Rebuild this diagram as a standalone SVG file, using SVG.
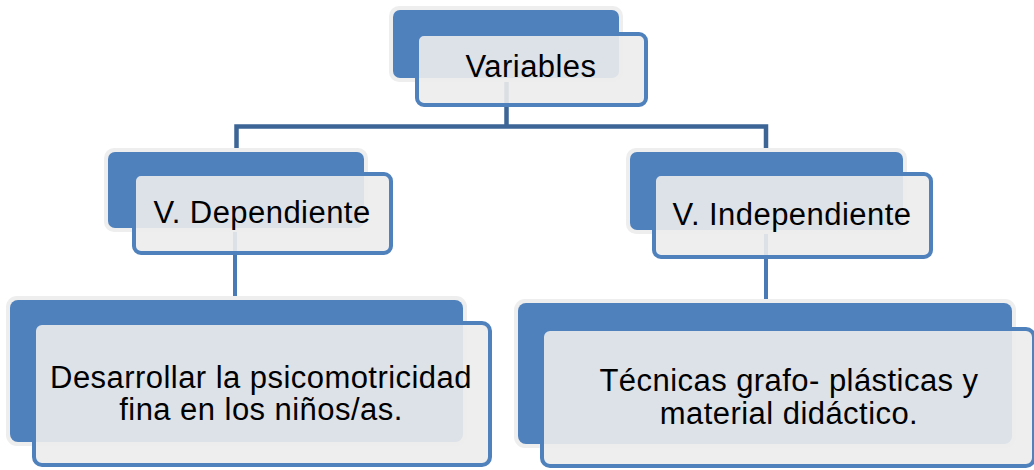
<svg xmlns="http://www.w3.org/2000/svg" width="1034" height="470" viewBox="0 0 1034 470">
<style>
.glow{fill:#eeeeee}
.back{fill:#4f81bd}
.front{fill:#ececec;fill-opacity:0.9;stroke:#4f81bd;stroke-width:4}
.lbl{font-family:"Liberation Sans",Arial,sans-serif;font-size:31px;letter-spacing:0.45px;fill:#000;text-anchor:middle}
.c1{stroke:#3d6697;stroke-width:4.5;fill:none}
.c2{stroke:#4a7ab5;stroke-width:4;fill:none}
</style>
<rect width="1034" height="470" fill="#ffffff"/>
<g id="connectors">
<path class="c1" d="M506.5 78 V126.5 M236.5 150 V126.5 H766 V150"/>
<path class="c2" d="M235 228 V302 M766 230 V305"/>
</g>
<g id="node-variables">
<rect class="glow" x="389" y="6" width="234" height="76" rx="10"/>
<rect class="back" x="393" y="10" width="226" height="68" rx="7"/>
<rect class="front" x="417" y="34" width="229" height="71" rx="7"/>
<text class="lbl" x="531" y="77">Variables</text>
</g>
<g id="node-dependiente">
<rect class="glow" x="104" y="148" width="264" height="84" rx="10"/>
<rect class="back" x="108" y="152" width="256" height="76" rx="7"/>
<rect class="front" x="134" y="174" width="257" height="79" rx="7"/>
<text class="lbl" x="262" y="223">V. Dependiente</text>
</g>
<g id="node-independiente">
<rect class="glow" x="626" y="148" width="281" height="86" rx="10"/>
<rect class="back" x="630" y="152" width="273" height="78" rx="7"/>
<rect class="front" x="654" y="174" width="277" height="83" rx="7"/>
<text class="lbl" x="792" y="225">V. Independiente</text>
</g>
<g id="node-desarrollar">
<rect class="glow" x="6" y="296" width="461" height="150" rx="11"/>
<rect class="back" x="10" y="300" width="453" height="142" rx="8"/>
<rect class="front" x="34" y="323" width="456" height="142" rx="8"/>
<text class="lbl"><tspan x="261" y="388">Desarrollar la psicomotricidad</tspan><tspan x="261" y="420">fina en los niños/as.</tspan></text>
</g>
<g id="node-tecnicas">
<rect class="glow" x="514" y="299" width="502" height="149" rx="11"/>
<rect class="back" x="518" y="303" width="494" height="141" rx="8"/>
<rect class="front" x="542" y="329" width="492" height="137" rx="8"/>
<text class="lbl"><tspan x="789" y="391">Técnicas grafo- plásticas y</tspan><tspan x="789" y="424">material didáctico.</tspan></text>
</g>
</svg>
